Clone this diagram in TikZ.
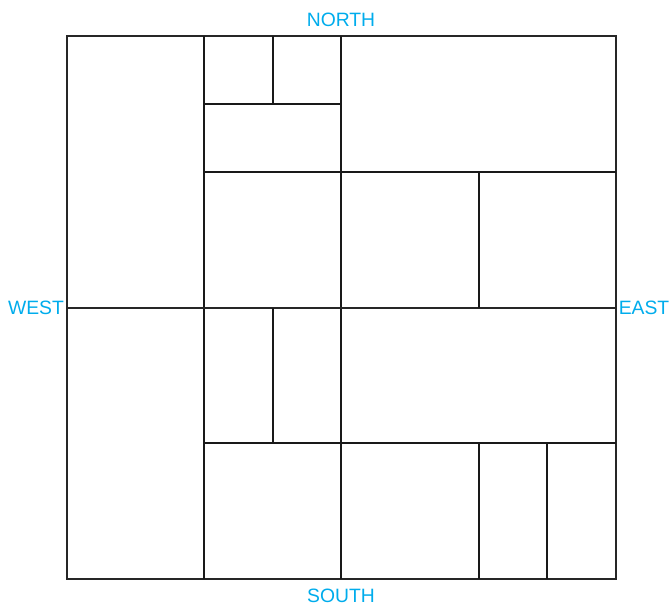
\documentclass[tikz,border=0pt]{standalone}
\usepackage{fontspec}
\setmainfont{Liberation Sans}
\usepackage{tikz}
\usetikzlibrary{positioning, calc}
\definecolor{compasscyan}{RGB}{0,172,236}
\tikzset{
  frame/.style={draw=black!85, line width=0.6pt},
  wall/.style={draw=black!90, line width=0.9pt},
  compass/.style={text=compasscyan, font=\fontsize{11}{13}\selectfont, inner sep=0pt}
}

\begin{document}
\begin{tikzpicture}[x=0.02cm, y=-0.02cm]
    \useasboundingbox (0,0) rectangle (670,606);

    % outer square
    \draw [frame] (67,36) rectangle (616,579);

    % main divisions
    \draw [wall] (204,36) -- (204,579);
    \draw [wall] (341,36) -- (341,579);
    \draw [frame] (67,308) -- (616,308);

    % top half
    \draw [wall] (204,104) -- (341,104);
    \draw [wall] (273,36) -- (273,104);
    \draw [wall] (204,172) -- (616,172);
    \draw [wall] (479,172) -- (479,308);

    % bottom half
    \draw [wall] (273,308) -- (273,443);
    \draw [wall] (204,443) -- (616,443);
    \draw [wall] (479,443) -- (479,579);
    \draw [wall] (547,443) -- (547,579);

    % compass labels
    \node (north) [compass] at (341,20) {NORTH};
    \node (south) [compass] at (341,596) {SOUTH};
    \node (west) [compass] at (36,308) {WEST};
    \node (east) [compass] at (644,308) {EAST};
\end{tikzpicture}
\end{document}
